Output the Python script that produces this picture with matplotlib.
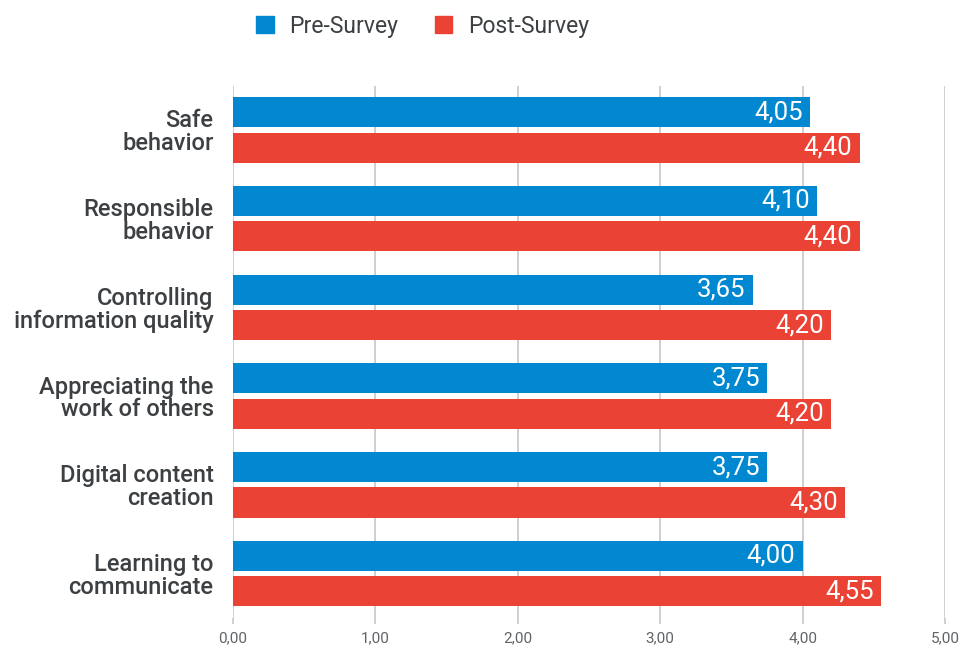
import matplotlib
matplotlib.use("Agg")
import matplotlib.pyplot as plt
import numpy as np
from matplotlib.patches import Patch

categories = ["Safe\nbehavior", "Responsible\nbehavior", "Controlling\ninformation quality",
              "Appreciating the\nwork of others", "Digital content\ncreation", "Learning to\ncommunicate"]
pre_values = [4.05, 4.10, 3.65, 3.75, 3.75, 4.00]
post_values = [4.40, 4.40, 4.20, 4.20, 4.30, 4.55]
series_names = ["Pre-Survey", "Post-Survey"]
xticks = [0, 1, 2, 3, 4, 5]

BLUE = "#0288D1"
RED = "#EA4335"
TEXT = "#3c4043"
GRID = "#cccccc"

plt.rcParams['font.family'] = ['Roboto', 'DejaVu Sans']

fig = plt.figure(figsize=(9.66, 6.48), dpi=100)
ax = fig.add_axes([233/966, 1-617.8/648, (945-233)/966, (617.8-85.6)/648])

y = np.arange(len(categories))
h = 0.34
off = 0.2
b1 = ax.barh(y - off, pre_values, height=h, color=BLUE, zorder=3)
b2 = ax.barh(y + off, post_values, height=h, color=RED, zorder=3)

for bars, vals in ((b1, pre_values), (b2, post_values)):
    for bar, v in zip(bars, vals):
        ax.text(v - 0.05, bar.get_y() + bar.get_height()/2, f"{v:.2f}".replace(".", ","),
                ha="right", va="center", color="white", fontsize=18.5, zorder=4)

ax.set_xlim(0, 5)
ax.set_ylim(len(categories) - 0.5, -0.5)
ax.set_xticks(xticks)
ax.set_xticklabels([f"{t:.2f}".replace(".", ",") for t in xticks], color="#5f6368", fontsize=11)
ax.set_yticks(y)
ax.set_yticklabels(categories, fontsize=17, color=TEXT, fontweight="medium", linespacing=0.98)
ax.tick_params(axis="y", length=0, pad=14)
ax.tick_params(axis="x", length=4, color=GRID, width=1.3, pad=6)
ax.grid(axis="x", color=GRID, linewidth=1.3, zorder=0)
for s in ax.spines.values():
    s.set_visible(False)

handles = [Patch(color=BLUE), Patch(color=RED)]
fig.legend(handles, series_names, loc="center", bbox_to_anchor=(423/966, 1-26/648), ncol=2,
           frameon=False, fontsize=16.5, handlelength=0.75, handleheight=0.75, columnspacing=1.6,
           handletextpad=0.7, labelcolor=TEXT)

fig.savefig("out.png", dpi=100)
